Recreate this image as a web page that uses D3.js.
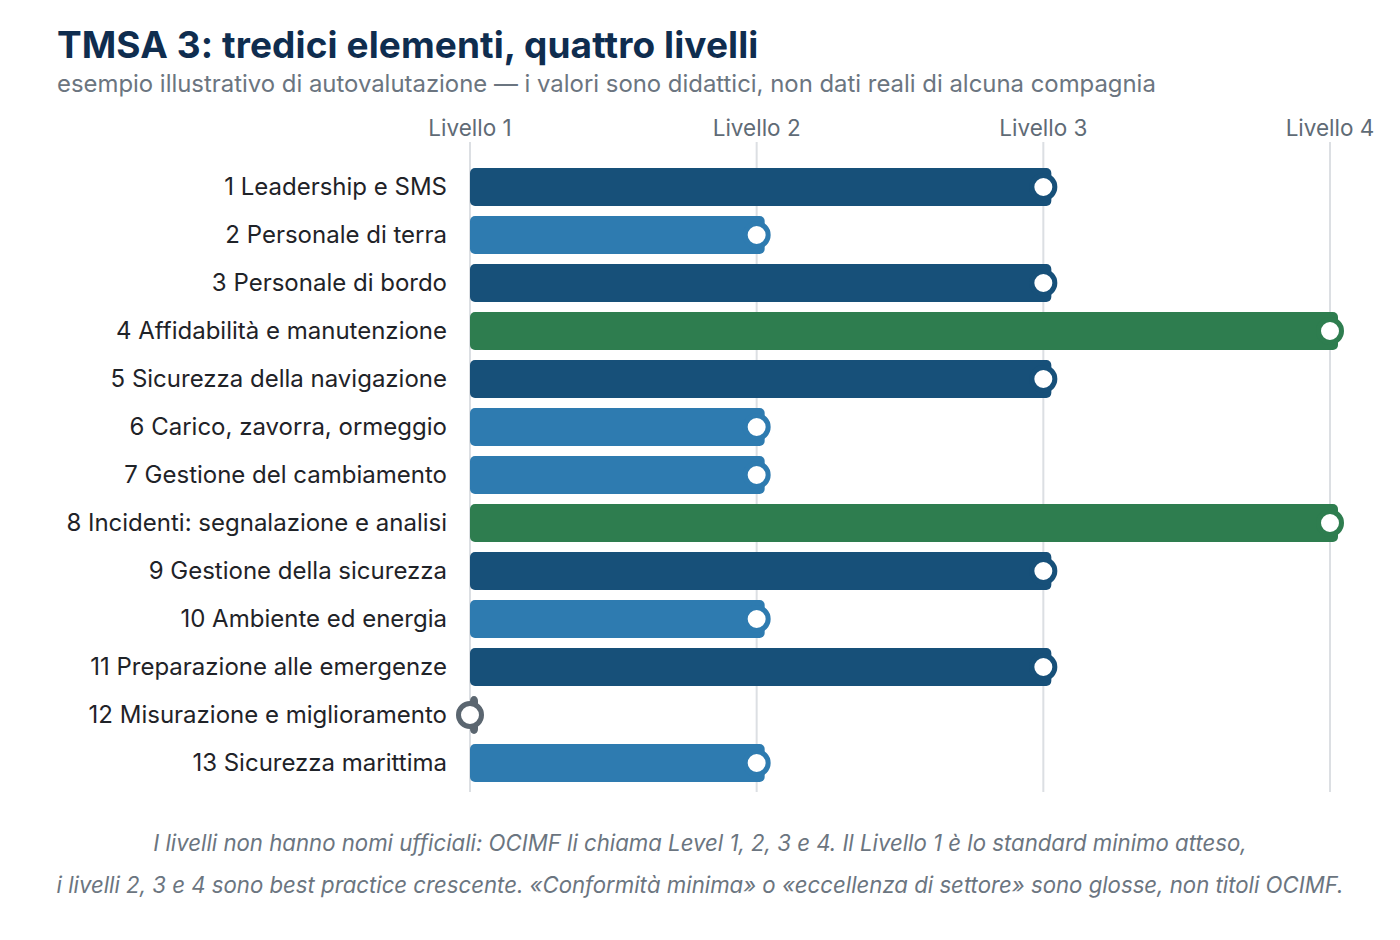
<!DOCTYPE html>
<html><head><meta charset="utf-8">
<script src="https://cdn.jsdelivr.net/npm/d3@7"></script>
<style>
body{margin:0;background:#fff;font-family:Inter,"Noto Sans",sans-serif;}
</style></head>
<body><svg id="c" width="1400" height="940"></svg>
<script>
const categories = ["1 Leadership e SMS","2 Personale di terra","3 Personale di bordo","4 Affidabilità e manutenzione","5 Sicurezza della navigazione","6 Carico, zavorra, ormeggio","7 Gestione del cambiamento","8 Incidenti: segnalazione e analisi","9 Gestione della sicurezza","10 Ambiente ed energia","11 Preparazione alle emergenze","12 Misurazione e miglioramento","13 Sicurezza marittima"];
const levels = [3,2,3,4,3,2,2,4,3,2,3,1,2];
const tickValues = [1,2,3,4];
const tickLabels = ["Livello 1","Livello 2","Livello 3","Livello 4"];
const levelColors = {1:"#5b6670",2:"#2e7bb0",3:"#175079",4:"#2e7d4f"};

const svg = d3.select("#c");
const x = d3.scaleLinear().domain([1,4]).range([470,1330]);
const y = d3.scaleBand().domain(categories).range([163,787]).paddingInner(0.2083).paddingOuter(0.104);

svg.append("text").attr("x",57).attr("y",58).attr("fill","#0f2d4f").attr("font-size",37).attr("font-weight",700).attr("letter-spacing","0.1").text("TMSA 3: tredici elementi, quattro livelli");
svg.append("text").attr("x",57).attr("y",92).attr("fill","#6b7580").attr("font-size",23.9).text("esempio illustrativo di autovalutazione — i valori sono didattici, non dati reali di alcuna compagnia");

// grid
svg.append("g").selectAll("line").data(tickValues).join("line")
  .attr("x1",d=>x(d)).attr("x2",d=>x(d)).attr("y1",142).attr("y2",792)
  .attr("stroke","#dcdfe3").attr("stroke-width",2);

// top axis labels
svg.append("g").selectAll("text").data(tickValues).join("text")
  .attr("x",d=>x(d)).attr("y",136).attr("text-anchor","middle")
  .attr("fill","#5f6b76").attr("font-size",22.5).text((d,i)=>tickLabels[i]);

// category labels
svg.append("g").selectAll("text").data(categories).join("text")
  .attr("x",447).attr("y",d=>y(d)+y.bandwidth()/2).attr("dy","0.35em")
  .attr("text-anchor","end").attr("fill","#1f2328").attr("font-size",24).text(d=>d);

const data = categories.map((c,i)=>({c,v:levels[i]}));
// bars
svg.append("g").selectAll("rect").data(data).join("rect")
  .attr("x",x(1)).attr("y",d=>y(d.c)).attr("width",d=>x(d.v)-x(1)+8).attr("height",y.bandwidth())
  .attr("rx",5).attr("fill",d=>levelColors[d.v]);
// markers
svg.append("g").selectAll("circle").data(data).join("circle")
  .attr("cx",d=>x(d.v)).attr("cy",d=>y(d.c)+y.bandwidth()/2).attr("r",11.5)
  .attr("fill","#fff").attr("stroke",d=>levelColors[d.v]).attr("stroke-width",5);

// footnote
const foot = ["I livelli non hanno nomi ufficiali: OCIMF li chiama Level 1, 2, 3 e 4. Il Livello 1 è lo standard minimo atteso,",
"i livelli 2, 3 e 4 sono best practice crescente. «Conformità minima» o «eccellenza di settore» sono glosse, non titoli OCIMF."];
svg.append("g").selectAll("text").data(foot).join("text")
  .attr("x",700).attr("y",(d,i)=>851+i*42).attr("text-anchor","middle")
  .attr("fill","#6b7580").attr("font-size",22.2).attr("font-style","italic").text(d=>d);
</script></body></html>
